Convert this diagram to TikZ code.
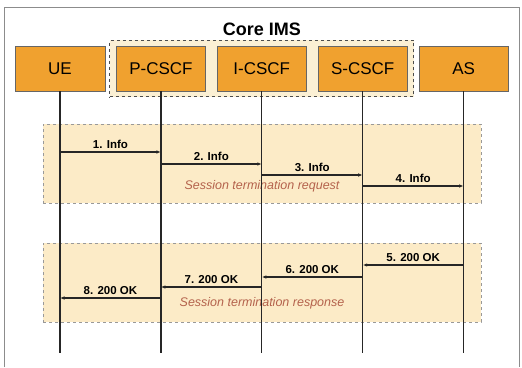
\documentclass[tikz,border=0pt]{standalone}
\usepackage{fontspec}
\setmainfont{Liberation Sans}
\usetikzlibrary{positioning,fit,backgrounds,arrows.meta}

\definecolor{boxorange}{HTML}{F0A12F}
\definecolor{corefill}{HTML}{FBF0D4}
\definecolor{phasefill}{HTML}{FCEBC7}
\definecolor{phasetext}{HTML}{B4624C}

\tikzset{
    entity/.style={draw=black!60, fill=boxorange, minimum width=89.5pt,
        minimum height=45pt, inner sep=0pt, font=\fontsize{17}{19}\selectfont},
    core/.style={draw=black!70, dashed, line width=1pt, fill=corefill},
    phase/.style={draw=black!40, dashed, fill=phasefill,
        minimum width=438pt, minimum height=79pt},
    phasetitle/.style={text=phasetext, font=\fontsize{12.5}{14}\selectfont\itshape},
    lifeline/.style={draw=black!85, line width=1.3pt},
    msg/.style={draw=black!85, line width=1.3pt, -{Latex[length=4.5pt,width=3.5pt]}},
    msglabel/.style={font=\fontsize{11.5}{13}\selectfont\bfseries, inner sep=1pt, above=2pt}
}

\begin{document}
\begin{tikzpicture}[x=1pt,y=-1pt]
    \useasboundingbox (0,0) rectangle (522,367);
    \draw[black!45, line width=1pt] (4,367) -- (4,7) -- (519,7) -- (519,367);

    % participants
    \node[entity] (ue) at (60,68.5) {UE};
    \node[entity, right=11pt of ue] (pcscf) {P-CSCF};
    \node[entity, right=11pt of pcscf] (icscf) {I-CSCF};
    \node[entity, right=11pt of icscf] (scscf) {S-CSCF};
    \node[entity, right=11pt of scscf] (as) {AS};

    \begin{scope}[on background layer]
    \node[core, fit=(pcscf)(scscf), inner xsep=6pt, inner ysep=5.5pt] (core) {};
    \end{scope}
    \node[above=1pt of core, font=\fontsize{18}{20}\selectfont\bfseries] (coretitle) {Core IMS};

    % phases
    \node[phase] (req) at (262,163.5) {};
    \node[phasetitle] (reqtitle) at (262,186) {Session termination request};
    \node[phase] (resp) at (262,282.5) {};
    \node[phasetitle] (resptitle) at (262,303) {Session termination response};

    % lifelines
    \coordinate (bottom) at (0,353);
    \foreach \p in {ue,pcscf,icscf,scscf,as}
        \draw[lifeline] (\p.south) -- (\p |- bottom);

    % request
    \foreach \src/\dst/\y [count=\n] in {ue/pcscf/152,pcscf/icscf/164,icscf/scscf/175,scscf/as/186}
    {\coordinate (r\n) at (0,\y);
    \draw[msg] (\src |- r\n) -- node[msglabel]{\n. Info} (\dst |- r\n);}

    % response
    \foreach \src/\dst/\y [count=\n from 5] in {as/scscf/265,scscf/icscf/277,icscf/pcscf/287,pcscf/ue/298}
    {\coordinate (a\n) at (0,\y);
    \draw[msg] (\src |- a\n) -- node[msglabel]{\n. 200 OK} (\dst |- a\n);}

\end{tikzpicture}
\end{document}
